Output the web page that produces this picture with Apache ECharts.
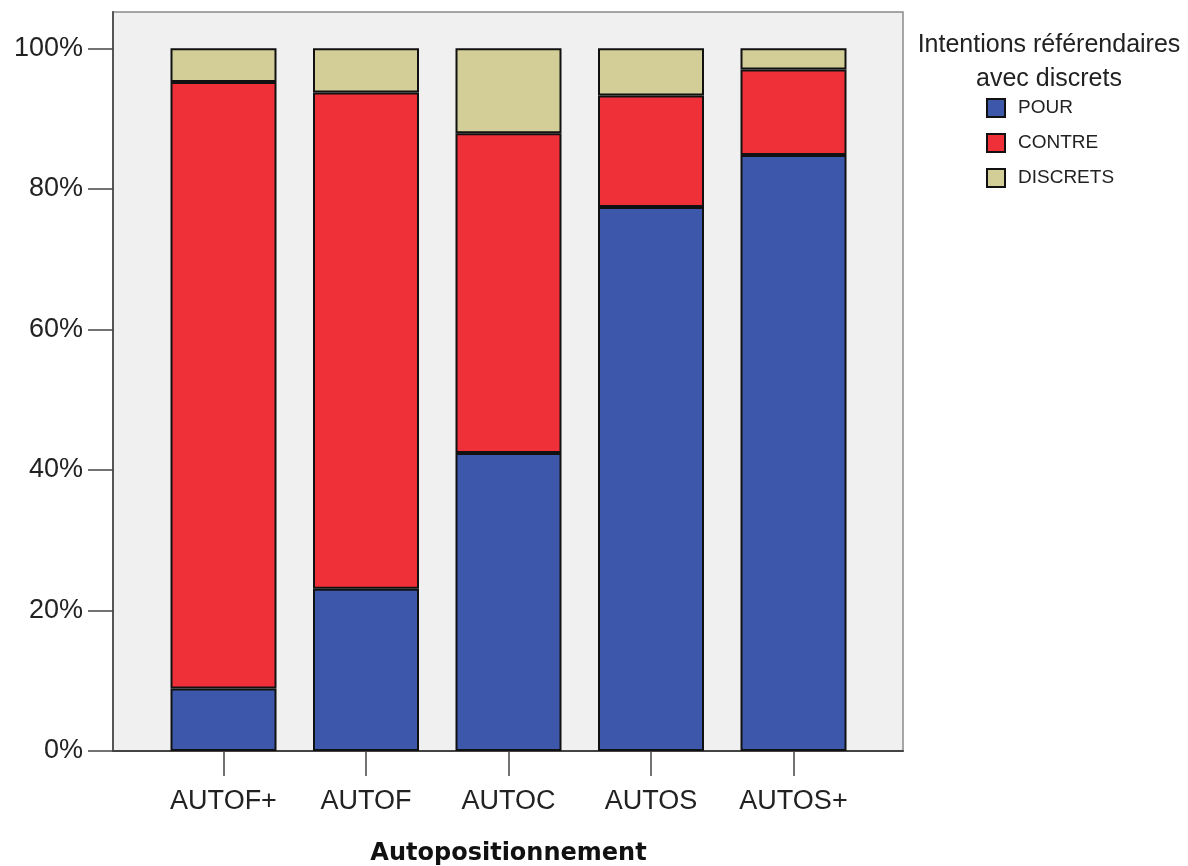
<!DOCTYPE html>
<html>
<head>
<meta charset="utf-8">
<script src="https://cdn.jsdelivr.net/npm/echarts@6/dist/echarts.min.js"></script>
<style>
html,body{margin:0;padding:0;background:#ffffff;}
#chart{width:1188px;height:866px;}
</style>
</head>
<body>
<div id="chart"></div>
<script>
const categories = ['AUTOF+', 'AUTOF', 'AUTOC', 'AUTOS', 'AUTOS+'];
const seriesNames = ['POUR', 'CONTRE', 'DISCRETS'];
const pour = [8.9, 23.1, 42.4, 77.4, 84.8];
const contre = [86.3, 70.6, 45.5, 15.9, 12.2];
const discrets = [4.8, 6.3, 12.1, 6.7, 3.0];
const yTicks = [0, 20, 40, 60, 80, 100];
const colors = ['#3d57aa', '#f03038', '#d3ce97'];

const chart = echarts.init(document.getElementById('chart'), null, {renderer: 'canvas'});
const values = [pour, contre, discrets];
const FONT = "'Liberation Sans', Arial, sans-serif";

const option = {
  backgroundColor: '#ffffff',
  animation: false,
  title: {
    text: 'Intentions référendaires\navec discrets',
    left: 1044,
    top: 23,
    textAlign: 'center',
    textStyle: {fontFamily: FONT, fontWeight: 'normal', fontSize: 25, color: '#222', lineHeight: 34}
  },
  legend: {
    orient: 'vertical',
    left: 986,
    top: 98,
    padding: 0,
    itemWidth: 18,
    itemHeight: 18,
    itemGap: 15,
    data: seriesNames,
    icon: 'rect',
    textStyle: {fontFamily: FONT, fontSize: 19, color: '#222', padding: [0, 0, 0, 8]}
  },
  grid: [
    {left: 113, top: 12, width: 790, height: 739, show: true, backgroundColor: '#f0f0f0', borderColor: '#8a8a8a', borderWidth: 1.5, outerBoundsMode: 'none', containLabel: false},
    {left: 152.25, top: 48.3, width: 712.5, height: 702.7, outerBoundsMode: 'none', containLabel: false}
  ],
  xAxis: [
    {gridIndex: 0, type: 'value', min: 0, max: 1,
      axisLine: {show: true, lineStyle: {color: '#444', width: 2}},
      axisTick: {show: false}, axisLabel: {show: false}, splitLine: {show: false}},
    {
      gridIndex: 1, type: 'category', data: categories,
      axisLine: {show: false},
      axisTick: {show: true, alignWithLabel: true, length: 25, lineStyle: {color: '#444', width: 1.5}},
      axisLabel: {fontFamily: FONT, fontSize: 27, color: '#222', margin: 37},
      name: 'Autopositionnement',
      nameLocation: 'middle',
      nameGap: 91,
      nameTextStyle: {fontFamily: "'DejaVu Sans', sans-serif", fontWeight: 'bold', fontSize: 24, color: '#111'}
    }
  ],
  yAxis: [
    {gridIndex: 0, type: 'value', min: 0, max: 1,
      axisLine: {show: true, lineStyle: {color: '#555', width: 2}},
      axisTick: {show: false}, axisLabel: {show: false}, splitLine: {show: false}},
    {
      gridIndex: 1, type: 'value', min: 0, max: 100, interval: 20,
      offset: 39.25,
      axisLine: {show: false},
      splitLine: {show: false},
      axisTick: {show: true, length: 25, lineStyle: {color: '#444', width: 1.5}},
      axisLabel: {fontFamily: FONT, fontSize: 27, color: '#222', margin: 30,
        formatter: function (v) { return yTicks.indexOf(v) >= 0 ? v + '%' : ''; }}
    }
  ],
  series: seriesNames.map(function (name, i) {
    return {
      name: name,
      type: 'bar',
      stack: 'total',
      xAxisIndex: 1,
      yAxisIndex: 1,
      barWidth: 106,
      data: values[i],
      itemStyle: {color: colors[i], borderColor: '#111', borderWidth: 2}
    };
  })
};
chart.setOption(option);
</script>
</body>
</html>
